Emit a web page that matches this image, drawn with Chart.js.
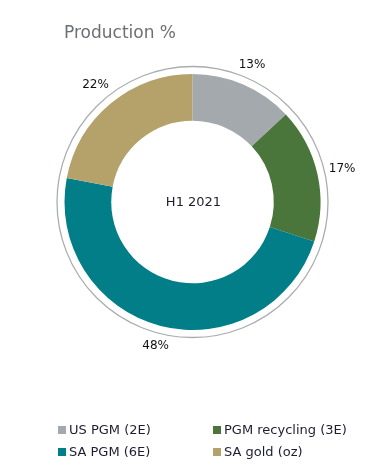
<!DOCTYPE html>
<html>
<head>
<meta charset="utf-8">
<script src="https://cdn.jsdelivr.net/npm/chart.js@4"></script>
<style>
html,body{margin:0;padding:0;background:#fff;}
#wrap{position:relative;width:373px;height:473px;}
</style>
</head>
<body>
<div id="wrap"><canvas id="c" width="373" height="473"></canvas></div>
<script>
const titleText = "Production %";
const centerText = "H1 2021";
const categories = ["US PGM (2E)", "PGM recycling (3E)", "SA PGM (6E)", "SA gold (oz)"];
const values = [13, 17, 48, 22];
const valueLabels = ["13%", "17%", "48%", "22%"];
const colors = ["#A3A9AC", "#4B763B", "#017E88", "#B4A26A"];

const FONT = "'DejaVu Sans', sans-serif";

const decor = {
  id: 'decor',
  afterDatasetsDraw(chart) {
    const ctx = chart.ctx;
    const meta = chart.getDatasetMeta(0);
    const arc0 = meta.data[0];
    const cx = arc0.x, cy = arc0.y, R = arc0.outerRadius;
    ctx.save();
    // outer thin ring
    ctx.beginPath();
    ctx.arc(cx, cy, R + 7.5, 0, Math.PI * 2);
    ctx.strokeStyle = '#A9ADB0';
    ctx.lineWidth = 1.3;
    ctx.stroke();
    // center text
    ctx.fillStyle = '#1E1E2E';
    ctx.font = '13px ' + FONT;
    ctx.textAlign = 'center';
    ctx.textBaseline = 'middle';
    ctx.fillText(centerText, cx + 1, cy + 1);
    // value labels
    ctx.font = '12px ' + FONT;
    ctx.fillStyle = '#111';
    meta.data.forEach((a, i) => {
      const mid = (a.startAngle + a.endAngle) / 2;
      const s = Math.cos(mid), c = Math.sin(mid);
      const w = ctx.measureText(valueLabels[i]).width / 2;
      const h = 6;
      const r = R + 11 + w * Math.abs(s) + h * Math.abs(c);
      ctx.fillText(valueLabels[i], cx + r * s, cy + r * c);
    });
    // title
    ctx.textAlign = 'left';
    ctx.textBaseline = 'alphabetic';
    ctx.fillStyle = '#6C6F73';
    ctx.font = '17px ' + FONT;
    ctx.fillText(titleText, 64, 38);
    // legend
    ctx.font = '13px ' + FONT;
    ctx.textBaseline = 'middle';
    const colX = [58, 213], rowY = [430, 452];
    categories.forEach((lab, i) => {
      const x = colX[i % 2], y = rowY[Math.floor(i / 2)];
      ctx.fillStyle = colors[i];
      ctx.fillRect(x, y - 4, 8, 8);
      ctx.fillStyle = '#1E1E33';
      ctx.fillText(lab, x + 11, y + 1);
    });
    ctx.restore();
  }
};

new Chart(document.getElementById('c'), {
  type: 'doughnut',
  data: {
    labels: categories,
    datasets: [{
      data: values,
      backgroundColor: colors,
      borderWidth: 0
    }]
  },
  options: {
    responsive: false,
    animation: false,
    cutout: '63.5%',
    rotation: 0,
    layout: { padding: { left: 64.5, right: 52.5, top: 74, bottom: 143 } },
    plugins: {
      legend: { display: false },
      title: { display: false },
      tooltip: { enabled: false }
    }
  },
  plugins: [decor]
});
</script>
</body>
</html>
